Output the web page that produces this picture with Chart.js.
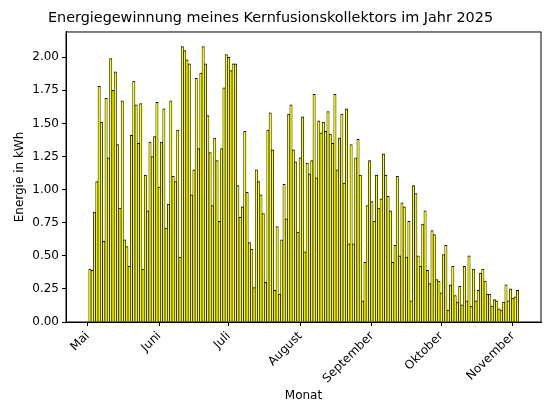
<!DOCTYPE html>
<html><head><meta charset="utf-8">
<script src="https://cdn.jsdelivr.net/npm/chart.js@4/dist/chart.umd.min.js"></script>
<style>html,body{margin:0;padding:0;background:#fff}#wrap{width:554px;height:416px}</style>
</head><body><div id="wrap"><canvas id="c" width="554" height="416"></canvas></div>
<script>
// Daily values, first bar = 2 May 2025, one value per consecutive day
const firstDate = '2025-05-02';
const energyKWh = [
  0.40, 0.39, 0.83, 1.06, 1.78, 1.51, 0.61, 1.69, 1.24, 1.99, 1.75, 1.89, 1.34, 0.86, 1.67, 0.62, 0.57, 0.42, 1.41, 1.82, 1.64, 1.35, 1.65, 0.40,
  1.11, 0.84, 1.36, 1.25, 1.40, 1.66, 1.02, 1.36, 1.61, 0.71, 0.89, 1.67, 1.10, 1.06, 1.45, 0.49, 2.08, 2.05, 1.98, 1.95, 0.96, 1.15, 1.84, 1.31, 1.88,
  2.08, 1.95, 1.56, 1.28, 0.88, 1.39, 1.22, 0.76, 1.31, 1.77, 2.02, 2.00, 1.90, 1.95, 1.95, 1.03, 0.79, 0.87, 1.44, 0.98, 0.60, 0.55, 0.26, 1.15, 1.06,
  0.96, 0.82, 0.30, 1.45, 1.58, 1.30, 0.24, 0.72, 0.21, 0.62, 1.04, 0.78, 1.57, 1.64, 1.30, 1.21, 0.68, 1.24, 1.55, 0.53, 1.20, 1.12, 1.22, 1.72, 1.09,
  1.52, 1.43, 1.51, 1.44, 1.59, 1.42, 1.35, 1.72, 1.15, 1.39, 1.57, 1.05, 1.61, 0.59, 1.34, 0.59, 1.24, 1.38, 1.11, 0.16, 0.45, 0.88, 1.22, 0.91, 0.76, 1.11,
  0.86, 0.93, 1.27, 1.11, 0.95, 0.84, 0.45, 0.58, 1.10, 0.50, 0.90, 0.87, 0.49, 0.76, 0.16, 1.03, 0.97, 0.50, 0.42, 0.74, 0.84, 0.39, 0.29, 0.69,
  0.66, 0.32, 0.31, 0.22, 0.51, 0.58, 0.09, 0.28, 0.42, 0.20, 0.15, 0.27, 0.13, 0.42, 0.16, 0.50, 0.12, 0.40, 0.16, 0.24, 0.37, 0.40,
  0.31, 0.21, 0.21, 0.12, 0.17, 0.16, 0.10, 0.09, 0.15, 0.28, 0.16, 0.25, 0.18, 0.19, 0.24
];
const monthLabels = ['Mai', 'Juni', 'Juli', 'August', 'September', 'Oktober', 'November'];
const monthStarts = ['2025-05-01', '2025-06-01', '2025-07-01', '2025-08-01', '2025-09-01', '2025-10-01', '2025-11-01'];
const yTickValues = [0, 0.25, 0.5, 0.75, 1.0, 1.25, 1.5, 1.75, 2.0];
const chartTitle = 'Energiegewinnung meines Kernfusionskollektors im Jahr 2025';
const xTitle = 'Monat';
const yTitle = 'Energie in kWh';

const axisOrigin = monthStarts[0];
const DAY = 86400000;
const dayNum = s => Math.round((Date.parse(s + 'T00:00:00Z') - Date.parse(axisOrigin + 'T00:00:00Z')) / DAY);
const firstDay = dayNum(firstDate);
const points = energyKWh.map((v, i) => ({ x: firstDay + i, y: v }));
const monthDays = monthStarts.map(dayNum);

Chart.defaults.font.family = "'DejaVu Sans', sans-serif";
Chart.defaults.color = '#000';

const framePlugin = {
  id: 'frame',
  afterDraw(chart) {
    const { ctx, chartArea: a } = chart;
    ctx.save();
    ctx.strokeStyle = '#000';
    ctx.lineWidth = 1;
    ctx.strokeRect(a.left, a.top, a.right - a.left, a.bottom - a.top);
    ctx.restore();
  }
};

new Chart(document.getElementById('c'), {
  type: 'bar',
  data: {
    datasets: [{
      data: points,
      backgroundColor: '#ffff00',
      borderColor: '#000000',
      borderWidth: { top: 1, left: 0.7, right: 0.7, bottom: 0 },
      borderSkipped: false,
      barPercentage: 1,
      categoryPercentage: 1
    }]
  },
  options: {
    responsive: false,
    animation: false,
    layout: { padding: { left: 0, right: 13, top: 0, bottom: 0 } },
    plugins: {
      legend: { display: false },
      tooltip: { enabled: false },
      title: {
        display: true, text: chartTitle, color: '#000',
        font: { size: 14.4, weight: 'normal' },
        padding: { top: 10, bottom: 4.7 }
      }
    },
    scales: {
      x: {
        type: 'linear', min: -9.34, max: 196.15, offset: false,
        grid: { display: true, offset: false, drawOnChartArea: false, drawTicks: true, tickLength: 4, color: '#000' },
        border: { display: true, color: '#000', width: 1 },
        afterBuildTicks: s => { s.ticks = monthDays.map(v => ({ value: v })); },
        ticks: {
          autoSkip: false, maxRotation: 45, minRotation: 45, padding: 3,
          font: { size: 12 },
          callback: v => { const i = monthDays.indexOf(v); return i >= 0 ? monthLabels[i] : ''; }
        },
        title: { display: true, text: xTitle, font: { size: 12 }, padding: { top: 0, bottom: 12.8 } },
        afterFit: s => { s.height = 94; }
      },
      y: {
        min: 0, max: 2.191,
        afterBuildTicks: s => { s.ticks = yTickValues.map(v => ({ value: v })); },
        ticks: { font: { size: 12 }, padding: 3, callback: v => Number(v).toFixed(2) },
        grid: { drawOnChartArea: false, drawTicks: true, tickLength: 4, color: '#000' },
        border: { display: true, color: '#000', width: 1 },
        title: { display: true, text: yTitle, font: { size: 12 }, padding: { top: 12.8, bottom: 0 } },
        afterFit: s => { s.width = 66; }
      }
    }
  },
  plugins: [framePlugin]
});
</script>
</body></html>
